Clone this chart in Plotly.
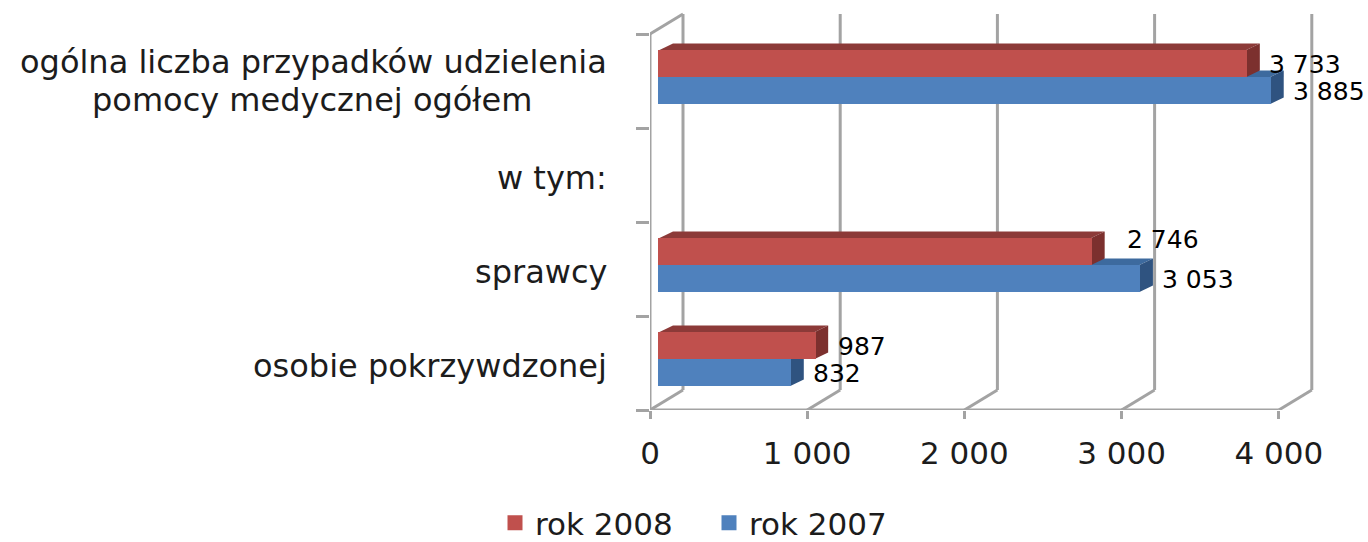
import plotly.graph_objects as go

categories = ["osobie pokrzywdzonej", "sprawcy", "w tym:",
              "ogólna liczba przypadków udzielenia<br>pomocy medycznej ogółem"]
rok_2008 = [987, 2746, None, 3733]
rok_2007 = [832, 3053, None, 3885]
x_ticks = [0, 1000, 2000, 3000, 4000]
x_tick_labels = ["0", "1 000", "2 000", "3 000", "4 000"]
series_names = ["rok 2008", "rok 2007"]

W, H = 1368, 542
X0, Y0 = 650, 410
PX_PER_VALUE = 0.1572
PX_PER_CAT = 94.0
positions = list(range(len(categories)))
xpx = lambda px: px / PX_PER_VALUE
ypx = lambda px: px / PX_PER_CAT

wall_dx, wall_dy = xpx(33), ypx(20)
bar_dx, bar_dy = xpx(13.5), ypx(6.5)
base = xpx(9.5)
bar_w = ypx(27)
red_off, blue_off = ypx(4), ypx(-23)
edge = 3                   # bar outline, same colour as the bar
y_min = -0.5
GRID = "#a3a3a3"
shapes = []


def line(x0, y0, x1, y1, w=3):
    shapes.append(dict(type="line", xref="x", yref="y", x0=x0, y0=y0, x1=x1, y1=y1,
                       layer="below", line=dict(color=GRID, width=w)))


def poly(pts, color):
    p = "M" + "L".join(f"{a},{b}" for a, b in pts) + "Z"
    shapes.append(dict(type="path", xref="x", yref="y", path=p, layer="below",
                       fillcolor=color, line=dict(width=0)))


y_top_front = y_min + len(categories)
line(0, y_min, 0, y_top_front)
line(0, y_min, x_ticks[-1], y_min)
line(0, y_top_front, wall_dx, y_top_front + wall_dy)
for t in x_ticks:
    line(t, y_min, t + wall_dx, y_min + wall_dy)
    line(t + wall_dx, y_min + wall_dy, t + wall_dx, y_top_front + wall_dy)


def faces(values, offset, top_color, side_color):
    for pos, v in zip(positions, values):
        if v is None:
            continue
        lo, hi = pos + offset, pos + offset + bar_w
        end = base + v
        poly([(base, hi), (end, hi), (end + bar_dx, hi + bar_dy), (base + bar_dx, hi + bar_dy)], top_color)
        poly([(end, lo), (end, hi), (end + bar_dx, hi + bar_dy), (end + bar_dx, lo + bar_dy)], side_color)


faces(rok_2007, blue_off, "#3D6A9E", "#2F5380")
faces(rok_2008, red_off, "#8C3A38", "#7C302E")

fig = go.Figure()
for name, vals, off, col in [(series_names[0], rok_2008, red_off, "#C0504D"),
                             (series_names[1], rok_2007, blue_off, "#4F81BD")]:
    fig.add_trace(go.Bar(name=name, y=positions, x=vals, base=base, orientation="h",
                         width=bar_w - ypx(edge), offset=off + ypx(edge / 2),
                         marker=dict(color=col, line=dict(width=edge, color=col))))

annotations = []
CAT_FONT = dict(family="DejaVu Sans", size=32, color="#1c1c1c")
LINE_STEP = 38
for pos, cat in zip(positions, categories):
    lines = cat.split("<br>")
    n = len(lines)
    for i, text in enumerate(lines):
        annotations.append(dict(x=0, y=pos, xref="x", yref="y", text=text, showarrow=False,
                                xanchor="right", xshift=-41 - (75 if i else 0),
                                yshift=(-3 if n == 1 else 0) + (n - 1) * LINE_STEP / 2 - i * LINE_STEP,
                                font=CAT_FONT))

label_shift = {(0, 1): (13, 13)}
for s, (vals, off) in enumerate([(rok_2008, red_off), (rok_2007, blue_off)]):
    for pos, v in zip(positions, vals):
        if v is None:
            continue
        sx, sy = label_shift.get((s, pos), (0, 0))
        txt = f"{v:,}".replace(",", " ")
        annotations.append(dict(x=base + v, y=pos + off + bar_w / 2, xref="x", yref="y",
                                text=txt, showarrow=False, xanchor="left",
                                xshift=21 + sx, yshift=sy - 1,
                                font=dict(family="DejaVu Sans", size=25, color="#000000")))

plot_w = W - X0
fig.update_layout(
    width=W, height=H, autosize=False, barmode="overlay", bargap=0,
    margin=dict(l=X0, r=0, t=0, b=H - Y0, pad=0),
    paper_bgcolor="white", plot_bgcolor="white", shapes=shapes, annotations=annotations,
    hovermode=False,
    xaxis=dict(range=[0, plot_w / PX_PER_VALUE], tickmode="array", tickvals=x_ticks,
               ticktext=x_tick_labels, showgrid=False, zeroline=False, showline=False,
               ticks="outside", ticklen=8, tickwidth=3, tickcolor=GRID, ticklabelstandoff=8,
               tickfont=dict(family="DejaVu Sans", size=31, color="#1c1c1c")),
    yaxis=dict(range=[y_min, y_min + Y0 / PX_PER_CAT], tickmode="array", tickvals=[],
               showgrid=False, zeroline=False, showline=False, ticks="", showticklabels=False,
               minor=dict(ticks="outside", ticklen=13, tickwidth=3, tickcolor=GRID, showgrid=False,
                          tickmode="array",
                          tickvals=[y_min + i for i in range(len(categories) + 1)])),
    legend=dict(orientation="h", xref="container", yref="container",
                x=495 / W, xanchor="left", y=1 - 523 / H, yanchor="middle",
                entrywidth=169, entrywidthmode="pixels",
                font=dict(family="DejaVu Sans", size=31, color="#1c1c1c"),
                traceorder="normal", bgcolor="rgba(0,0,0,0)"),
)
fig.write_html("out.html", config=dict(displayModeBar=False),
               post_script="document.body.style.margin='0';document.documentElement.style.overflow='hidden';")
